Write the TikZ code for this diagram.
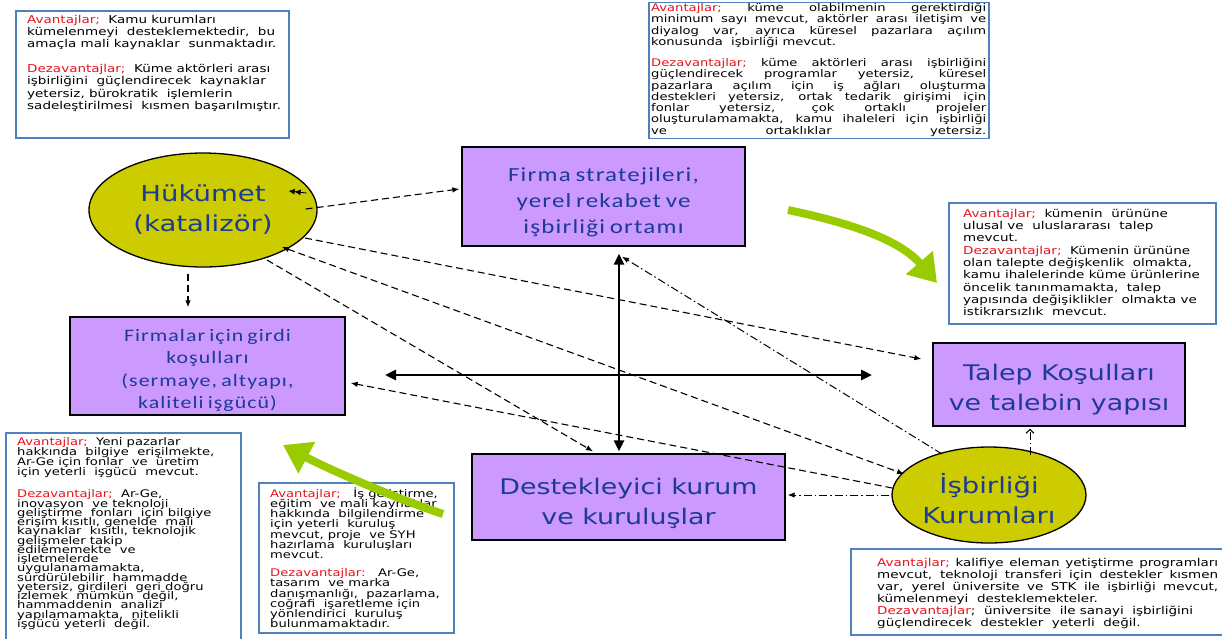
\documentclass[tikz,border=0pt]{standalone}
\usepackage{fontspec}
\setmainfont{DejaVu Sans}[FakeStretch=1.25]
\newfontfamily\calfnt{Carlito}[FakeStretch=1.25,LetterSpace=6,WordSpace=0.7]
\usetikzlibrary{shapes.geometric,arrows.meta}
\definecolor{nodeblue}{RGB}{28,58,150}
\definecolor{boxpurple}{RGB}{204,153,255}
\definecolor{olivefill}{RGB}{204,204,0}
\definecolor{infoborder}{RGB}{79,129,189}
\definecolor{lablred}{RGB}{230,20,30}
\definecolor{arrgreen}{RGB}{153,204,0}
\newcommand{\avl}{\textcolor{lablred}{Avantajlar;}}
\newcommand{\dzl}{\textcolor{lablred}{Dezavantajlar;}}
\newcommand{\jl}[2]{\makebox[#1][s]{#2}}
\newcommand{\tightfont}[2]{\fontsize{#1}{#2}\selectfont\lineskiplimit=-100pt\lineskip=0pt\relax}
\newcommand{\lift}[1]{\rule{0pt}{#1}}
\tikzset{
  purplebox/.style={draw=black, line width=1.3pt, fill=boxpurple, inner sep=0pt, text=nodeblue, align=center},
  oval/.style={ellipse, draw=black, line width=1.3pt, fill=olivefill, inner sep=0pt, text=nodeblue, align=center},
  infobox/.style={draw=infoborder, line width=1.5pt, fill=white, inner sep=0pt, anchor=north west},
  infotext/.style={anchor=north west, inner sep=0pt, align=left, text=black},
  dashedline/.style={line width=1.1pt, dash pattern=on 7pt off 4pt},
  dotline/.style={line width=1pt, dash pattern=on 8pt off 3pt on 1.5pt off 3pt},
  smalltip/.style={-{Latex[length=7pt,width=5.5pt]}},
  axis/.style={line width=2.8pt, {Triangle[length=11pt,width=10pt]}-{Triangle[length=11pt,width=10pt]}},
  greenarrow/.style={draw=arrgreen, line width=8pt, -{Triangle[length=27pt,width=34pt]}},
}
\begin{document}
\begin{tikzpicture}[x=1pt,y=1pt]
\useasboundingbox (0,0) rectangle (1222,-638);

% ---------- info boxes ----------
\node[infobox, minimum width=273pt, minimum height=127pt] (b1) at (15,-10) {};
\node[infotext, font=\tightfont{10.8}{12.3}] (t1) at (27,-14.4) {%
\strut\avl\ \ Kamu kurumları\\
kümelenmeyi\ \ desteklemektedir,\ \ bu\\
amaçla mali kaynaklar\ \ sunmaktadır.\\[12.3pt]
\dzl\ \ Küme aktörleri arası\\
işbirliğini\ \ güçlendirecek\ \ kaynaklar\\
yetersiz, bürokratik\ \ işlemlerin\\
sadeleştirilmesi\ \ kısmen başarılmıştır.};

\node[infobox, minimum width=340pt, minimum height=136pt] (b2) at (648,-1.5) {};
\node[infotext, font=\tightfont{10.5}{11.3}] (t2) at (651,-3.1) {%
\strut\jl{335pt}{\avl\ küme olabilmenin gerektirdiği}\\
\jl{335pt}{minimum sayı mevcut, aktörler arası iletişim ve}\\
\jl{335pt}{diyalog var, ayrıca küresel pazarlara açılım}\\
konusunda\ \ işbirliği mevcut.\\[9.7pt]
\jl{335pt}{\dzl\ küme aktörleri arası işbirliğini}\\
\jl{335pt}{güçlendirecek programlar yetersiz, küresel}\\
\jl{335pt}{pazarlara açılım için iş ağları oluşturma}\\
\jl{335pt}{destekleri yetersiz, ortak tedarik girişimi için}\\
\jl{335pt}{fonlar yetersiz, çok ortaklı projeler}\\
\jl{335pt}{oluşturulamamakta, kamu ihaleleri için işbirliği}\\
\jl{335pt}{ve ortaklıklar yetersiz.}};

\node[infobox, minimum width=267pt, minimum height=121pt] (b3) at (948,-202) {};
\node[infotext, font=\tightfont{10.8}{12.3}] (t3) at (963,-208.4) {%
\strut\avl\ \ kümenin\ \ ürününe\\
ulusal ve\ \ uluslararası\ \ talep\\
mevcut.\\
\dzl\ \ Kümenin ürününe\\
olan talepte değişkenlik\ \ olmakta,\\
kamu ihalelerinde küme ürünlerine\\
öncelik tanınmamakta,\ \ talep\\
yapısında değişiklikler\ \ olmakta ve\\
istikrarsızlık\ \ mevcut.};

\node[infobox, minimum width=235pt, minimum height=220pt] (b4) at (5,-432) {};
\node[infotext, font=\tightfont{10.5}{10}] (t4a) at (17,-437.7) {%
\strut\avl\ \ Yeni\ pazarlar\\
hakkında\ \ bilgiye\ \ erişilmekte,\\
Ar-Ge için fonlar\ \ ve\ \ üretim\\
için yeterli\ \ işgücü\ \ mevcut.};
\node[infotext, font=\tightfont{10.5}{9.25}] (t4b) at (17,-489.8) {%
\strut\dzl\ \ Ar-Ge,\\
inovasyon\ \ ve teknoloji\\
geliştirme\ \ fonları\ \ için bilgiye\\
erişim kısıtlı, genelde\ \ mali\\
kaynaklar\ \ kısıtlı, teknolojik\\
gelişmeler takip\\
edilememekte\ \ ve\\
işletmelerde\\
uygulanamamakta,\\
sürdürülebilir\ \ hammadde\\
yetersiz, girdileri\ \ geri doğru\\
izlemek\ \ mümkün\ \ değil,\\
hammaddenin\ \ analizi\\
yapılamamakta,\ \ nitelikli\\
işgücü yeterli\ \ değil.};

\node[infobox, minimum width=195pt, minimum height=150pt] (b5) at (258,-482) {};
\node[infotext, font=\tightfont{10.5}{10.2}] (t5) at (270,-487.5) {%
\strut\avl\ \ \ İş geliştirme,\\
eğitim\ \ ve mali kaynaklar\\
hakkında\ \ bilgilendirme\\
için yeterli\ \ kuruluş\\
mevcut, proje\ \ ve SYH\\
hazırlama\ \ kuruluşları\\
mevcut.\\[8pt]
\textcolor{lablred}{Dezavantajlar:}\ \ \ Ar-Ge,\\
tasarım\ \ ve marka\\
danışmanlığı,\ \ pazarlama,\\
coğrafi\ \ işaretleme\ için\\
yönlendirici\ \ kuruluş\\
bulunmamaktadır.};

\node[infobox, minimum width=380pt, minimum height=86pt] (b6) at (850,-548) {};
\node[infotext, font=\tightfont{10.8}{12.1}] (t6) at (877,-557.8) {%
\strut\jl{341pt}{\avl\ kalifiye eleman yetiştirme programları}\\
\jl{341pt}{mevcut, teknoloji transferi için destekler kısmen}\\
\jl{341pt}{var, yerel üniversite ve STK ile işbirliği mevcut,}\\
kümelenmeyi\ \ desteklemekteler.\\
\textcolor{lablred}{Dezavantajlar};\ \ üniversite\ \ ile sanayi\ \ işbirliğini\\
güçlendirecek\ \ destekler\ \ yeterli\ \ değil.};

% ---------- main nodes ----------
\node[purplebox, minimum width=283pt, minimum height=99pt, font=\calfnt\fontsize{20}{26}\selectfont] (fs) at (603.5,-196.5) {\lift{25pt}Firma stratejileri,\\yerel rekabet ve\\işbirliği ortamı};
\node[purplebox, minimum width=275pt, minimum height=98pt, font=\calfnt\fontsize{17.5}{22.5}\selectfont] (fg) at (207.5,-366) {\lift{21pt}Firmalar için girdi\\koşulları\\(sermaye, altyapı,\\kaliteli işgücü)};
\node[purplebox, minimum width=252pt, minimum height=83pt, font=\fontsize{21.5}{30}\selectfont] (tk) at (1059,-384.5) {\lift{26.5pt}Talep Koşulları\\ve talebin yapısı};
\node[purplebox, minimum width=313pt, minimum height=86pt, font=\fontsize{21.5}{30}\selectfont] (dk) at (628.5,-497) {\lift{30pt}Destekleyici kurum\\ve kuruluşlar};
\node[oval, minimum width=228pt, minimum height=114pt, font=\fontsize{22}{30}\selectfont] (hk) at (203,-210) {Hükümet\\(katalizör)};
\node[oval, minimum width=194pt, minimum height=96pt, font=\fontsize{22}{30}\selectfont] (ik) at (989,-495) {\lift{28pt}İşbirliği\\Kurumları};

% ---------- axes ----------
\coordinate (axl) at (385,-375);
\coordinate (axr) at (872,-375);
\draw[axis] (axl) -- (axr);
\draw[axis] ([shift={(15.5,-7)}]fs.south) -- ([shift={(-9.5,2)}]dk.north);

% ---------- dashed connectors ----------
\draw[dashedline, smalltip] ([shift={(-12,1)}]hk.east) -- ([shift={(-2,7.5)}]fs.west);
\draw[line width=0.8pt, -{Latex[length=6pt,width=6pt]Latex[length=6pt,width=6pt]}] ([shift={(-11,17)}]hk.east) -- ([shift={(-29,19)}]hk.east);
\draw[dashedline, smalltip] ([shift={(-15,-6)}]hk.south) -- ([shift={(-19.5,9)}]fg.north);
\draw[dashedline, smalltip] ([shift={(102,-28)}]hk.center) -- ([shift={(-11,25.5)}]tk.west);
\draw[dashedline, {Latex[length=7pt,width=5.5pt]}-{Latex[length=7pt,width=5.5pt]}] ([shift={(79,-37)}]hk.center) -- ([shift={(-85,21)}]ik.center);
\draw[dashedline, smalltip] ([shift={(64,-50)}]hk.center) -- ([shift={(-35.5,2)}]dk.north);
\draw[dashedline, smalltip] ([shift={(1,7)}]ik.west) -- ([shift={(5,-17)}]fg.east);

% ---------- dash-dot connectors ----------
\draw[dotline, smalltip] ([shift={(-47,41)}]ik.center) -- ([shift={(18.5,-10)}]fs.south);
\draw[dotline, smalltip] ([shift={(-2,0)}]ik.west) -- ([shift={(2,2)}]dk.east);
\draw[dotline, -{Straight Barb[length=4pt,width=8pt]}] ([shift={(41,40)}]ik.center) -- ([shift={(-29,-2)}]tk.south);

% ---------- green arrows ----------
\coordinate (g1s) at (788,-210);
\coordinate (g1e) at (937,-283);
\draw[greenarrow] (g1s) .. controls (845,-222) and (898,-238) .. (g1e);
\coordinate (g2s) at (443,-514);
\coordinate (g2e) at (283,-445);
\draw[greenarrow] (g2s) .. controls (400,-500) and (330,-470) .. (g2e);
\end{tikzpicture}
\end{document}
